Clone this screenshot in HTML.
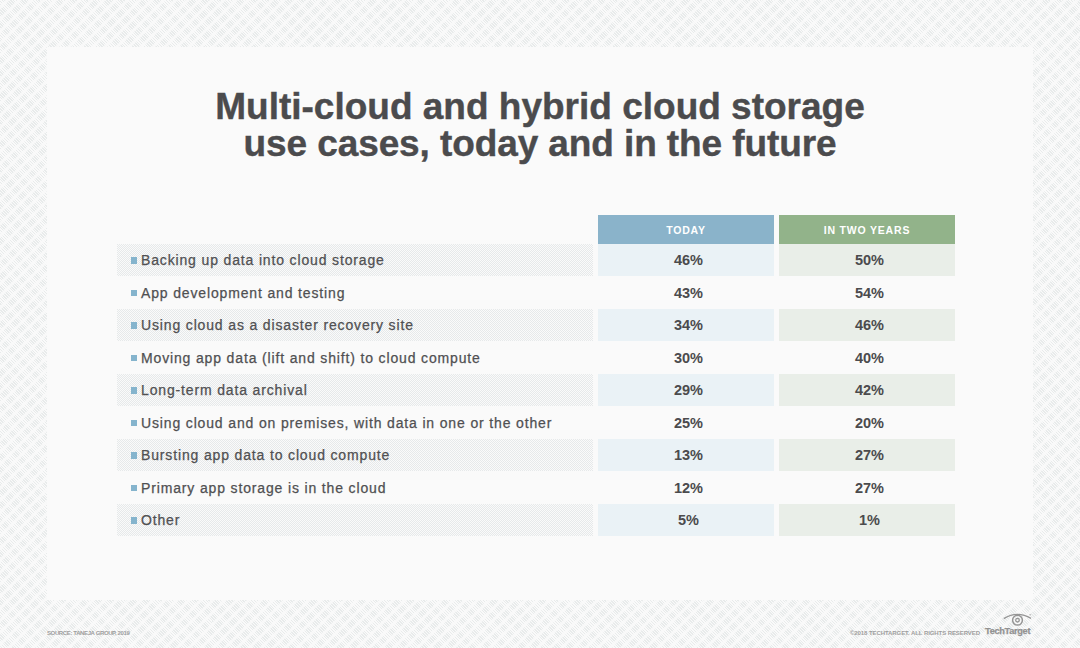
<!DOCTYPE html>
<html><head><meta charset="utf-8">
<style>
html,body{margin:0;padding:0;}
body{width:1080px;height:648px;position:relative;overflow:hidden;font-family:"Liberation Sans",sans-serif;
background-color:#f6f7f7;
background-image:repeating-linear-gradient(-45deg,rgba(250,250,250,0.85) 0px,rgba(250,250,250,0.85) 2px,transparent 3px,transparent 7.5px,rgba(250,250,250,0.85) 8.5px),repeating-linear-gradient(45deg,#fafafa 0px,#fafafa 1px,#e8ebeb 1px,#e8ebeb 2px);}
.card{position:absolute;left:47px;top:47px;width:986px;height:553px;background:#fafafa;}
.t{position:absolute;left:0;width:1080px;text-align:center;font-weight:bold;color:#4b4b4d;font-size:37px;line-height:40px;letter-spacing:0px;-webkit-text-stroke:0.4px #4b4b4d;white-space:nowrap;}
.t span{display:inline-block;transform-origin:center;}
.hd{position:absolute;top:215px;height:29px;width:176px;color:#fff;font-weight:bold;font-size:10.5px;letter-spacing:0.8px;text-align:center;line-height:31px;}
.row{position:absolute;left:0;width:1080px;height:32px;}
.lab{position:absolute;left:117px;width:476px;top:0;height:32px;}
.lab.s{background-color:#f0f1f2;background-image:conic-gradient(#fafafa 25%,#e6e9ea 0 50%,#fafafa 0 75%,#e6e9ea 0);background-size:2px 2px;}
.lab .b{position:absolute;left:14px;top:13.3px;width:6.4px;height:6.4px;background:#85b4cd;}
.lab .tx{position:absolute;left:24px;top:0;line-height:32px;font-size:14px;letter-spacing:0.85px;color:#505052;-webkit-text-stroke:0.25px #505052;white-space:nowrap;}
.c1,.c2{position:absolute;top:0;width:171px;padding-left:5px;height:32px;text-align:center;line-height:32px;font-weight:bold;font-size:14.5px;color:#4b4b4d;}
.c1{left:598px;}
.c2{left:779px;}
.c1.s{background:#eaf2f6;}
.c2.s{background:#e9eee8;}
.foot{position:absolute;font-size:6px;color:#9e9e9e;white-space:nowrap;}
</style></head><body>
<div class="card"></div>
<div class="t" style="top:87px;"><span id="l1">Multi-cloud and hybrid cloud storage</span></div>
<div class="t" style="top:124px;"><span id="l2" style="letter-spacing:-0.1px;">use cases, today and in the future</span></div>

<div class="hd" style="left:598px;background:#8ab3ca;">TODAY</div>
<div class="hd" style="left:779px;background:#92b38a;">IN TWO YEARS</div>

<div class="row" style="top:244px;"><div class="lab s"><i class="b"></i><span class="tx">Backing up data into cloud storage</span></div><div class="c1 s">46%</div><div class="c2 s">50%</div></div>
<div class="row" style="top:276.5px;"><div class="lab"><i class="b"></i><span class="tx">App development and testing</span></div><div class="c1">43%</div><div class="c2">54%</div></div>
<div class="row" style="top:309px;"><div class="lab s"><i class="b"></i><span class="tx">Using cloud as a disaster recovery site</span></div><div class="c1 s">34%</div><div class="c2 s">46%</div></div>
<div class="row" style="top:341.5px;"><div class="lab"><i class="b"></i><span class="tx">Moving app data (lift and shift) to cloud compute</span></div><div class="c1">30%</div><div class="c2">40%</div></div>
<div class="row" style="top:374px;"><div class="lab s"><i class="b"></i><span class="tx">Long-term data archival</span></div><div class="c1 s">29%</div><div class="c2 s">42%</div></div>
<div class="row" style="top:406.5px;"><div class="lab"><i class="b"></i><span class="tx">Using cloud and on premises, with data in one or the other</span></div><div class="c1">25%</div><div class="c2">20%</div></div>
<div class="row" style="top:439px;"><div class="lab s"><i class="b"></i><span class="tx">Bursting app data to cloud compute</span></div><div class="c1 s">13%</div><div class="c2 s">27%</div></div>
<div class="row" style="top:471.5px;"><div class="lab"><i class="b"></i><span class="tx">Primary app storage is in the cloud</span></div><div class="c1">12%</div><div class="c2">27%</div></div>
<div class="row" style="top:504px;"><div class="lab s"><i class="b"></i><span class="tx">Other</span></div><div class="c1 s">5%</div><div class="c2 s">1%</div></div>

<div class="foot" id="f1" style="left:47px;top:630px;font-weight:bold;letter-spacing:-0.38px;">SOURCE: TANEJA GROUP, 2019</div>
<div class="foot" id="f2" style="left:850px;top:630px;font-weight:bold;letter-spacing:-0.08px;">©2018 TECHTARGET. ALL RIGHTS RESERVED</div>
<div class="foot" id="f3" style="left:985px;top:625.5px;font-size:9.2px;font-weight:bold;letter-spacing:-0.3px;color:#929292;-webkit-text-stroke:0.25px #929292;">TechTarget</div>
<svg style="position:absolute;left:1000px;top:610px;" width="36" height="18" viewBox="0 0 36 18">
<path d="M3.8 8.6 Q17.3 0.4 31 8.4" fill="none" stroke="#959595" stroke-width="1.3"/>
<circle cx="17.5" cy="10.2" r="4.9" fill="none" stroke="#959595" stroke-width="1.5"/>
<circle cx="17.5" cy="10.2" r="1.8" fill="none" stroke="#959595" stroke-width="1.3"/>
<circle cx="30.1" cy="4.8" r="0.7" fill="#aaaaaa"/>
</svg>
</body></html>
